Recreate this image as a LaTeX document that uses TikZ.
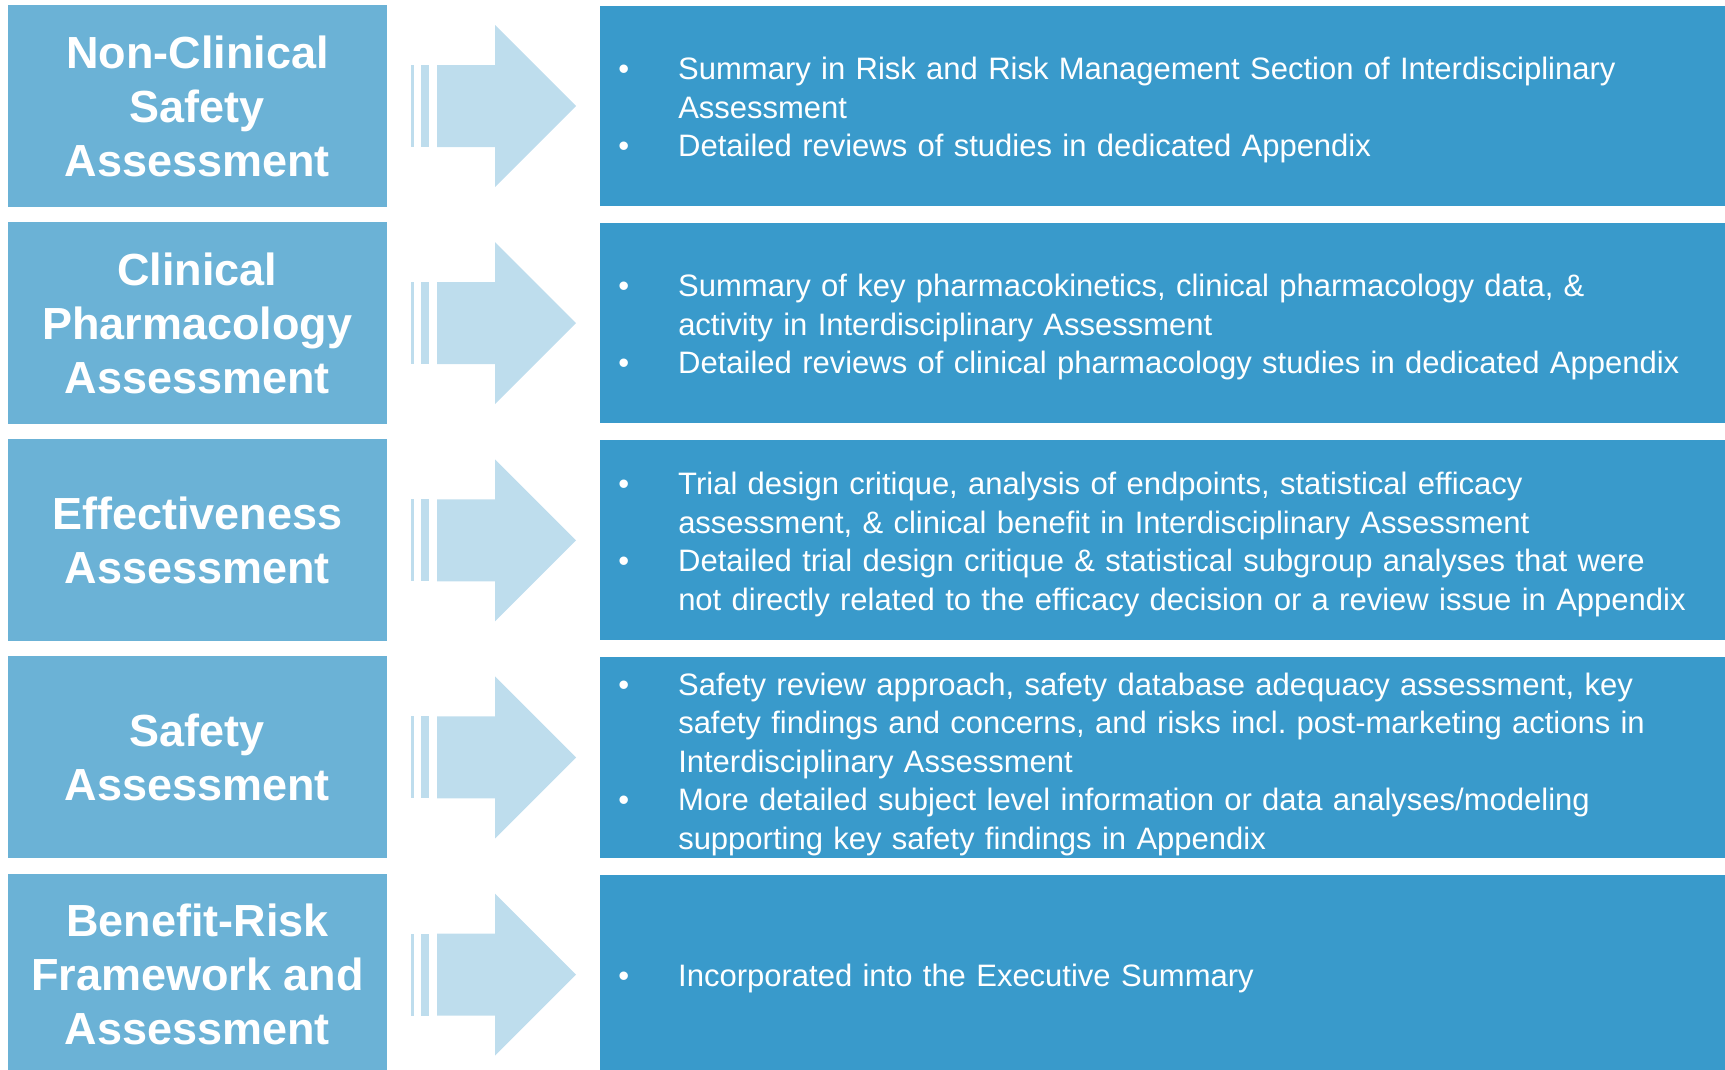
\documentclass[tikz,border=0pt]{standalone}
\usepackage{fontspec}
\setmainfont{Liberation Sans}
\usetikzlibrary{positioning,calc}

\definecolor{titleblue}{HTML}{6BB2D6}
\definecolor{descblue}{HTML}{399ACB}
\definecolor{arrowblue}{HTML}{BEDDED}

% one bullet line, hanging
\newcommand{\itm}{\par\leftskip=60pt\noindent\hspace*{-60pt}\makebox[60pt][l]{\textbullet}}
\newcommand{\lastitm}[1][8pt]{\par\vspace{#1}}

% fat arrow with stripes, to the right of a title box
\newcommand{\fatarrow}[1]{%
  \fill[arrowblue] ($(#1.east)+(23.7,-41)$) rectangle ++(3,82);
  \fill[arrowblue] ($(#1.east)+(34,-41)$) rectangle ++(8.3,82);
  \fill[arrowblue] ($(#1.east)+(50,-41)$) -- ++(58,0) -- ++(0,-40)
    -- ++(81,81) -- ++(-81,81) -- ++(0,-40) -- ++(-58,0) -- cycle;
}

\tikzset{
  titlebox/.style={fill=titleblue, text=white, align=center, inner sep=0pt,
    minimum width=379pt, minimum height=202pt,
    font=\bfseries\fontsize{45}{54}\selectfont},
  descbox/.style={fill=descblue, text=white, align=left, inner xsep=18pt, inner ysep=0pt,
    text width=1089pt, minimum height=200pt,
    font=\fontsize{31}{38.5}\selectfont},
}

\begin{document}
\begin{tikzpicture}[x=1pt,y=-1pt]
  \useasboundingbox (0,0) rectangle (1725,1069);
  \clip (0,0) rectangle (1725,1069);

  % titles
  \node[titlebox] (t1) at (197.35,106) {Non-Clinical\\Safety\\Assessment};
  \node[titlebox, below=14.75pt of t1] (t2) {Clinical\\Pharmacology\\Assessment};
  \node[titlebox, below=14.75pt of t2] (t3) {Effectiveness\\Assessment};
  \node[titlebox, below=14.75pt of t3] (t4) {Safety\\Assessment};
  \node[titlebox, below=14.75pt of t4] (t5) {Benefit-Risk\\Framework and\\Assessment};

  % descriptions
  \node[descbox, right=213pt of t1] (d1) {\itm Summary in Risk and Risk Management Section of Interdisciplinary\\Assessment
    \itm Detailed reviews of studies in dedicated Appendix\lastitm};
  \node[descbox, right=213pt of t2] (d2) {\itm Summary of key pharmacokinetics, clinical pharmacology data, \&\\activity in Interdisciplinary Assessment
    \itm Detailed reviews of clinical pharmacology studies in dedicated Appendix\lastitm};
  \node[descbox, right=213pt of t3] (d3) {\itm Trial design critique, analysis of endpoints, statistical efficacy\\assessment, \& clinical benefit in Interdisciplinary Assessment
    \itm Detailed trial design critique \& statistical subgroup analyses that were\\not directly related to the efficacy decision or a review issue in Appendix\lastitm};
  \node[descbox, right=213pt of t4] (d4) {\itm Safety review approach, safety database adequacy assessment, key\\safety findings and concerns, and risks incl.\ post-marketing actions in\\Interdisciplinary Assessment
    \itm More detailed subject level information or data analyses/modeling\\supporting key safety findings in Appendix\lastitm[2pt]};
  \node[descbox, right=213pt of t5] (d5) {\itm Incorporated into the Executive Summary\lastitm};

  % arrows
  \fatarrow{t1}
  \fatarrow{t2}
  \fatarrow{t3}
  \fatarrow{t4}
  \fatarrow{t5}
\end{tikzpicture}
\end{document}
